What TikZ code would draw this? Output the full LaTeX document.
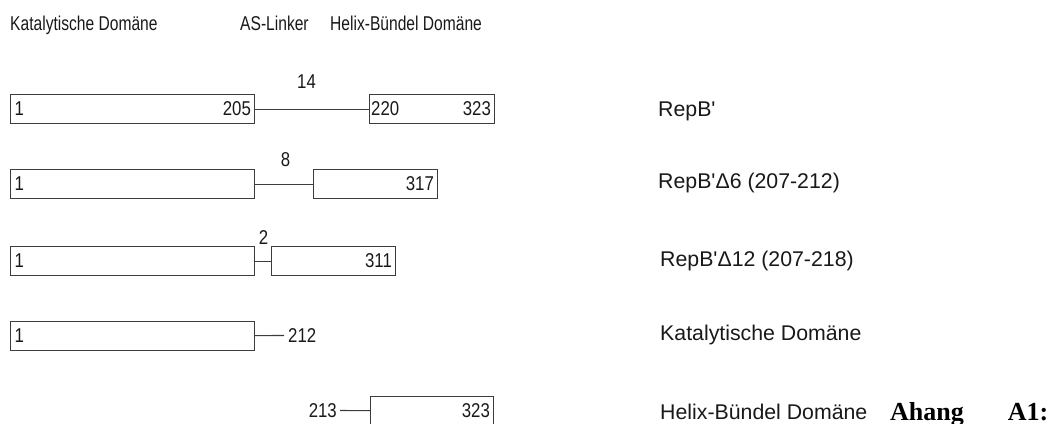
\documentclass[tikz,border=0pt]{standalone}
\usepackage{fontspec}
\setmainfont{Liberation Sans}
\newfontfamily\headsans[FakeStretch=0.78]{Liberation Sans}
\newfontfamily\numsans[FakeStretch=0.84]{Liberation Sans}
\newfontfamily\capserif{Liberation Serif}
\usetikzlibrary{positioning}
\definecolor{boxline}{RGB}{60,60,60}
\definecolor{textgray}{RGB}{25,25,25}
\tikzset{
  domainbox/.style={draw=boxline,line width=1.1pt,minimum height=29pt,
    inner sep=0pt,anchor=north west},
  numlabel/.style={inner sep=0pt,text=textgray,font=\numsans\fontsize{20}{20}\selectfont},
  headlabel/.style={inner sep=0pt,anchor=base west,text=textgray,
    font=\headsans\fontsize{20}{20}\selectfont},
  rowlabel/.style={inner sep=0pt,anchor=base west,text=textgray,
    font=\fontsize{21.3}{22}\selectfont},
  linker/.style={draw=boxline,line width=1.1pt},
}

\begin{document}
\begin{tikzpicture}[x=1pt,y=-1pt]
    \useasboundingbox (0,0) rectangle (1057,423);
    \clip (0,0) rectangle (1057,423);
    % column heads
    \node[headlabel] (hkat) at (10,30) {Katalytische Domäne};
    \node[headlabel] (hlink) at (240,30) {AS-Linker};
    \node[headlabel] (hhel) at (330,30) {Helix-Bündel Domäne};
    % RepB'
    \node[domainbox,minimum width=244pt] (kat1) at (10,94) {};
    \node[domainbox,minimum width=125pt] (hel1) at (369,94) {};
    \draw[linker] (kat1) -- (hel1);
    \node[numlabel,anchor=west] (a1) at ([xshift=4.5pt]kat1.west) {1};
    \node[numlabel,anchor=east] (b1) at ([xshift=-4pt]kat1.east) {205};
    \node[numlabel,anchor=west] (c1) at ([xshift=2pt]hel1.west) {220};
    \node[numlabel,anchor=east] (d1) at ([xshift=-4pt]hel1.east) {323};
    \node[numlabel] (len1) at (306.5,81.5) {14};
    \node[rowlabel] (name1) at (658,116) {RepB\textquotesingle};
    % RepB' delta 6
    \node[domainbox,minimum width=244pt] (kat2) at (10,169) {};
    \node[domainbox,minimum width=124pt] (hel2) at (313,169) {};
    \draw[linker] (kat2) -- (hel2);
    \node[numlabel,anchor=west] (a2) at ([xshift=4.5pt]kat2.west) {1};
    \node[numlabel,anchor=east] (d2) at ([xshift=-4pt]hel2.east) {317};
    \node[numlabel] (len2) at (285.5,159.5) {8};
    \node[rowlabel] (name2) at (658,188.5) {RepB\textquotesingle Δ6 (207-212)};
    % RepB' delta 12
    \node[domainbox,minimum width=244pt] (kat3) at (10,246) {};
    \node[domainbox,minimum width=124pt] (hel3) at (271,246) {};
    \draw[linker] (kat3) -- (hel3);
    \node[numlabel,anchor=west] (a3) at ([xshift=4.5pt]kat3.west) {1};
    \node[numlabel,anchor=east] (d3) at ([xshift=-4pt]hel3.east) {311};
    \node[numlabel] (len3) at (263.5,238) {2};
    \node[rowlabel] (name3) at (660,266) {RepB\textquotesingle Δ12 (207-218)};
    % catalytic domain alone
    \node[domainbox,minimum width=244pt] (kat4) at (10,321) {};
    \coordinate (end4) at (284,335.5);
    \draw[linker] (kat4) -- (end4);
    \node[numlabel,anchor=west] (a4) at ([xshift=4.5pt]kat4.west) {1};
    \node[numlabel,anchor=west] (b4) at ([xshift=4pt]end4) {212};
    \node[rowlabel] (name4) at (660,340) {Katalytische Domäne};
    % helix bundle alone
    \node[domainbox,minimum width=123pt] (hel5) at (370,396) {};
    \coordinate (start5) at (340,410.5);
    \draw[linker] (start5) -- (hel5);
    \node[numlabel,anchor=east] (c5) at ([xshift=-3pt]start5) {213};
    \node[numlabel,anchor=east] (d5) at ([xshift=-4pt]hel5.east) {323};
    \node[rowlabel] (name5) at (660,419) {Helix-Bündel Domäne};
    \node[inner sep=0pt,anchor=base west,font=\capserif\bfseries\fontsize{26}{26}\selectfont]
      (anhang) at (890,420) {Ahang\hspace{44pt}A1:};
  \end{tikzpicture}
\end{document}
